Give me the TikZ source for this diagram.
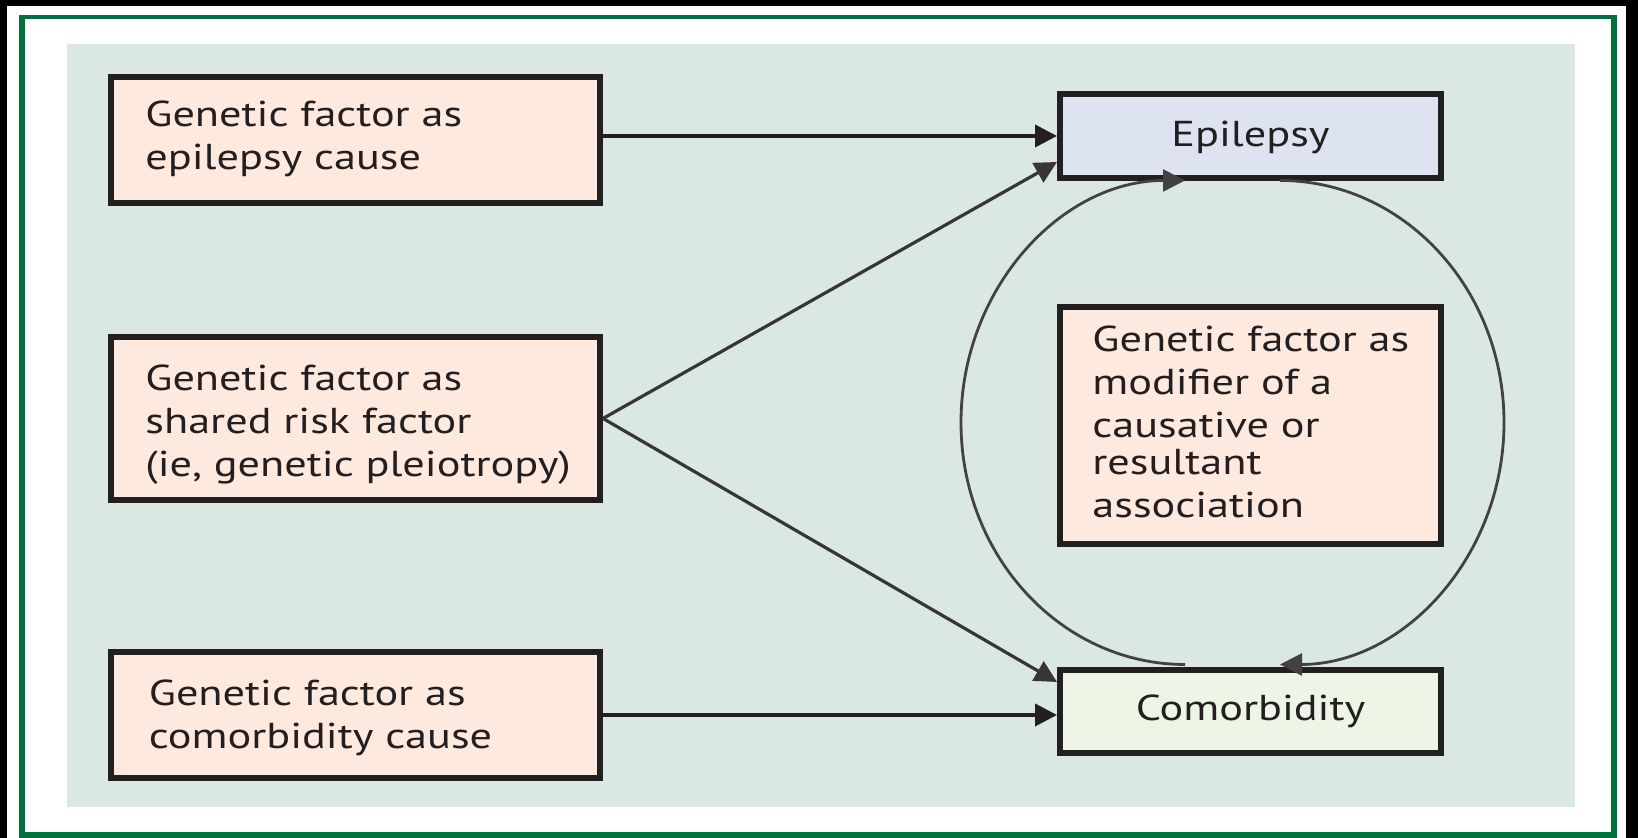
\documentclass[tikz,border=0pt]{standalone}
\usepackage{fontspec}
\setmainfont[FakeStretch=1.23]{PT Sans}
\usetikzlibrary{arrows.meta,calc}
\definecolor{framegreen}{HTML}{00703C}
\definecolor{panel}{HTML}{DAE8E1}
\definecolor{peach}{HTML}{FDE9DE}
\definecolor{lav}{HTML}{DDE3F0}
\definecolor{mint}{HTML}{EDF5E6}
\definecolor{ink}{HTML}{231F20}
\tikzset{
  boxshape/.style={rectangle, draw=ink, line width=3pt, inner sep=0pt},
  txt/.style={font=\fontsize{18}{21.5}\selectfont, align=left, inner sep=0pt, text=ink},
  arr/.style={draw=ink, line width=1.9pt, -{Triangle[length=11pt,width=11pt]}},
  darr/.style={draw=ink!90, line width=1.6pt, -{Triangle[length=11pt,width=11pt]}},
  arcline/.style={draw=ink!85, line width=1.4pt, -{Triangle[length=11pt,width=11pt]}}
}
\begin{document}
\begin{tikzpicture}[x=0.5pt,y=0.5pt]
\useasboundingbox (0,0) rectangle (1638,838);
\fill[black] (0,0) rectangle (1638,838);
\fill[white] (7,0) rectangle (1626,832);
\fill[framegreen] (19,0) rectangle (1617,823);
\fill[white] (25,6) rectangle (1611,819);
\fill[panel] (67,31) rectangle (1575,794);

\node[boxshape, fill=peach, minimum width=244.5pt, minimum height=63pt] (b1) at (355.5,698) {};
\node[boxshape, fill=peach, minimum width=244.5pt, minimum height=81.5pt] (b2) at (355.5,419.5) {};
\node[boxshape, fill=peach, minimum width=244.5pt, minimum height=63pt] (b3) at (355.5,123) {};
\node[boxshape, fill=peach, minimum width=190.5pt, minimum height=118.5pt] (mid) at (1250.5,412.5) {};
\node[boxshape, fill=lav, minimum width=190.5pt, minimum height=42pt] (ep) at (1250.5,702) {};
\node[boxshape, fill=mint, minimum width=190.5pt, minimum height=41.5pt] (co) at (1250.5,126.5) {};

\node[txt, anchor=north west] (t1) at (145,738) {Genetic factor as\\epilepsy cause};
\node[txt, anchor=north west] (t2) at (145,474) {Genetic factor as\\shared risk factor\\(ie, genetic pleiotropy)};
\node[txt, anchor=north west] (t3) at (148.5,159) {Genetic factor as\\comorbidity cause};
\node[txt, anchor=north west] (t4) at (1092,513) {Genetic factor as\\modifier of a\\causative or\\[-3pt]resultant\\association};
\node[txt, anchor=base] (tep) at (1250.5,691) {Epilepsy};
\node[txt, anchor=base] (tco) at (1250.5,117) {Comorbidity};

\draw[arr] (b1.east |- ep.west) -- (ep.west);
\draw[arr] (b3.east) -- (b3.east -| co.west);
\draw[darr] (b2.east) -- ($(ep.south west)+(0,19)$);
\draw[darr] (b2.east) -- ($(co.north west)+(0,-15)$);

\draw[arcline] ($(co.north)+(-65.5,2.5)$) arc[start angle=270, end angle=90, x radius=224, y radius=242];
\draw[arcline] ($(ep.south)+(29.5,0.5)$) arc[start angle=90, end angle=-90, x radius=224, y radius=242];
\end{tikzpicture}
\end{document}
